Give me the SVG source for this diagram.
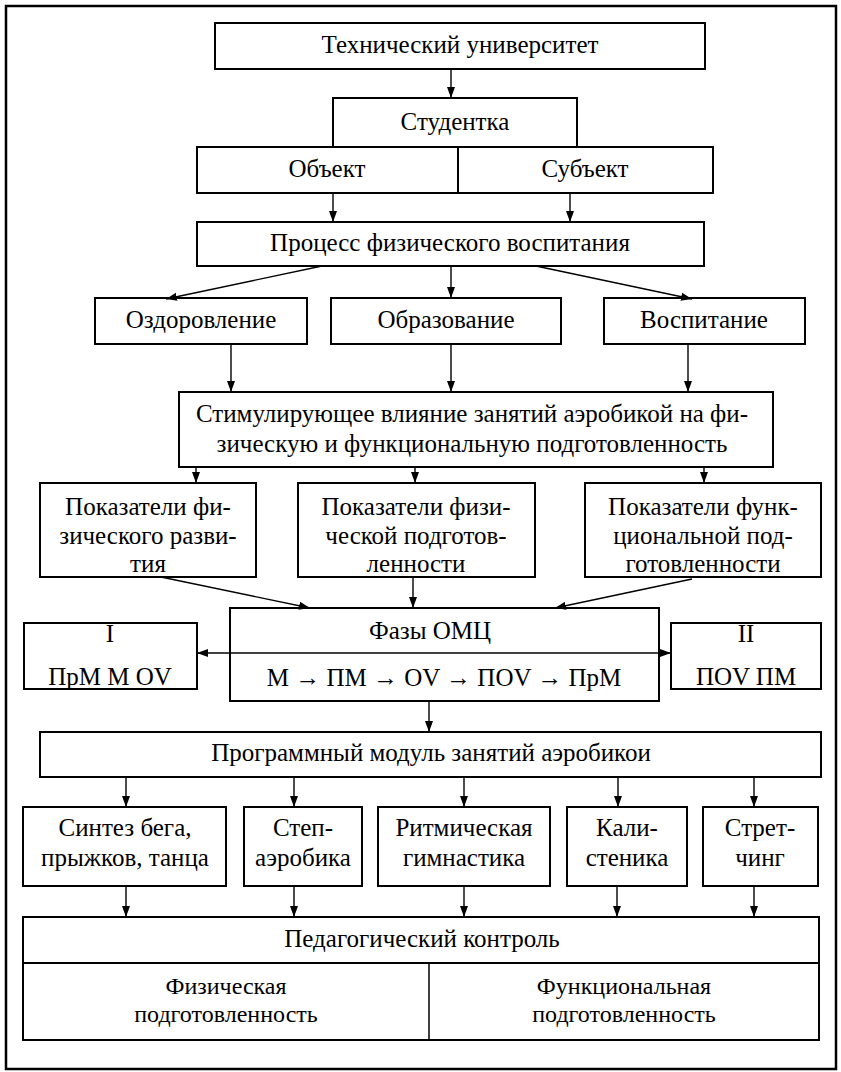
<svg xmlns="http://www.w3.org/2000/svg" width="841" height="1072" viewBox="0 0 841 1072">
<defs>
<marker id="ah" markerWidth="12" markerHeight="10" refX="11" refY="5" orient="auto" markerUnits="userSpaceOnUse">
<path d="M0,1 L11,5 L0,9 z" fill="#000"/>
</marker>
<marker id="ahs" markerWidth="12" markerHeight="10" refX="11" refY="5" orient="auto-start-reverse" markerUnits="userSpaceOnUse">
<path d="M0,1 L11,5 L0,9 z" fill="#000"/>
</marker>
<style>
.b{fill:#fff;stroke:#000;stroke-width:2}
.t{font-family:"Liberation Serif","Times New Roman",serif;font-size:25px;fill:#000;text-anchor:middle}
.s{font-size:24px}
.c line{stroke:#000;stroke-width:1.4;marker-end:url(#ah)}
</style>
</defs>
<rect width="841" height="1072" fill="#fff"/>
<rect x="6" y="6" width="830" height="1063" fill="none" stroke="#000" stroke-width="2.5"/>

<g id="n-tech"><rect class="b" x="215" y="23" width="490" height="46"/><text class="t" x="460" y="53">Технический университет</text></g>
<g id="n-stud"><rect class="b" x="333" y="98" width="244" height="49"/><text class="t" x="455" y="130">Студентка</text></g>
<g id="n-obj"><rect class="b" x="197" y="147" width="261" height="46"/><text class="t" x="327" y="177">Объект</text></g>
<g id="n-subj"><rect class="b" x="458" y="147" width="255" height="46"/><text class="t" x="585" y="177">Субъект</text></g>
<g id="n-proc"><rect class="b" x="197" y="222" width="507" height="44"/><text class="t" x="450" y="251">Процесс физического воспитания</text></g>
<g id="n-ozd"><rect class="b" x="95" y="298" width="212" height="46"/><text class="t" x="201" y="328">Оздоровление</text></g>
<g id="n-obr"><rect class="b" x="331" y="298" width="230" height="46"/><text class="t" x="446" y="328">Образование</text></g>
<g id="n-vos"><rect class="b" x="604" y="298" width="201" height="46"/><text class="t" x="704" y="328">Воспитание</text></g>
<g id="n-stim"><rect class="b" x="179" y="392" width="594" height="75"/><text class="t" x="472" y="422">Стимулирующее влияние занятий аэробикой на фи-</text><text class="t" x="472" y="452">зическую и функциональную подготовленность</text></g>
<g id="n-pok1"><rect class="b" x="40" y="483" width="216" height="94"/><text class="t" x="148" y="515">Показатели фи-</text><text class="t" x="148" y="544">зического разви-</text><text class="t" x="148" y="572">тия</text></g>
<g id="n-pok2"><rect class="b" x="298" y="483" width="237" height="94"/><text class="t" x="416" y="515">Показатели физи-</text><text class="t" x="416" y="544">ческой  подготов-</text><text class="t" x="416" y="572">ленности</text></g>
<g id="n-pok3"><rect class="b" x="585" y="483" width="236" height="94"/><text class="t" x="703" y="515">Показатели функ-</text><text class="t" x="703" y="544">циональной  под-</text><text class="t" x="703" y="572">готовленности</text></g>
<g id="n-faz"><rect class="b" x="230" y="608" width="429" height="93"/><text class="t" x="430" y="639">Фазы ОМЦ</text><text class="t" x="444" y="686">M → ПМ → OV → ПОV → ПрМ</text></g>
<g id="n-I"><rect class="b" x="24" y="623" width="173" height="66"/><text class="t" x="110" y="642">I</text><text class="t" x="110" y="685">ПрМ M OV</text></g>
<g id="n-II"><rect class="b" x="671" y="623" width="150" height="66"/><text class="t" x="746" y="642">II</text><text class="t" x="746" y="685">ПОV  ПМ</text></g>
<g id="n-prog"><rect class="b" x="40" y="732" width="781" height="45"/><text class="t" x="431" y="761">Программный модуль занятий аэробикои</text></g>
<g id="n-sin"><rect class="b" x="23" y="807" width="203" height="79"/><text class="t" x="125" y="836">Синтез бега,</text><text class="t" x="125" y="866">прыжков, танца</text></g>
<g id="n-step"><rect class="b" x="244" y="807" width="118" height="79"/><text class="t" x="303" y="836">Степ-</text><text class="t" x="303" y="866">аэробика</text></g>
<g id="n-rit"><rect class="b" x="378" y="807" width="172" height="79"/><text class="t" x="464" y="836">Ритмическая</text><text class="t" x="464" y="866">гимнастика</text></g>
<g id="n-kal"><rect class="b" x="567" y="807" width="120" height="79"/><text class="t" x="627" y="836">Кали-</text><text class="t" x="627" y="866">стеника</text></g>
<g id="n-str"><rect class="b" x="703" y="807" width="115" height="79"/><text class="t" x="760" y="836">Стрет-</text><text class="t" x="760" y="866">чинг</text></g>
<g id="n-ped"><rect class="b" x="23" y="917" width="796" height="123"/><line x1="23" y1="963" x2="819" y2="963" stroke="#000" stroke-width="2"/><line x1="429" y1="963" x2="429" y2="1040" stroke="#000" stroke-width="1.5"/><text class="t" x="422" y="947">Педагогический контроль</text><text class="t s" x="226" y="994">Физическая</text><text class="t s" x="226" y="1022">подготовленность</text><text class="t s" x="624" y="994">Функциональная</text><text class="t s" x="624" y="1022">подготовленность</text></g>

<g id="connectors" class="c">
<line x1="451" y1="69" x2="451" y2="98"/>
<line x1="333" y1="193" x2="333" y2="222"/>
<line x1="570" y1="193" x2="570" y2="222"/>
<line x1="322" y1="266" x2="166" y2="299"/>
<line x1="451" y1="266" x2="451" y2="298"/>
<line x1="536" y1="266" x2="692" y2="299"/>
<line x1="231" y1="344" x2="231" y2="392"/>
<line x1="451" y1="344" x2="451" y2="392"/>
<line x1="688" y1="344" x2="688" y2="392"/>
<line x1="196" y1="467" x2="196" y2="483"/>
<line x1="415" y1="467" x2="415" y2="483"/>
<line x1="704" y1="467" x2="704" y2="483"/>
<line x1="161" y1="577" x2="310" y2="608"/>
<line x1="413" y1="577" x2="413" y2="608"/>
<line x1="692" y1="579" x2="555" y2="608"/>
<line x1="197" y1="653" x2="671" y2="653" style="marker-start:url(#ahs)"/>
<line x1="429" y1="701" x2="429" y2="732"/>
<line x1="126" y1="777" x2="126" y2="807"/>
<line x1="294" y1="777" x2="294" y2="807"/>
<line x1="464" y1="777" x2="464" y2="807"/>
<line x1="618" y1="777" x2="618" y2="807"/>
<line x1="754" y1="777" x2="754" y2="807"/>
<line x1="126" y1="886" x2="126" y2="917"/>
<line x1="294" y1="886" x2="294" y2="917"/>
<line x1="464" y1="886" x2="464" y2="917"/>
<line x1="617" y1="886" x2="617" y2="917"/>
<line x1="754" y1="886" x2="754" y2="917"/>
</g>
</svg>
